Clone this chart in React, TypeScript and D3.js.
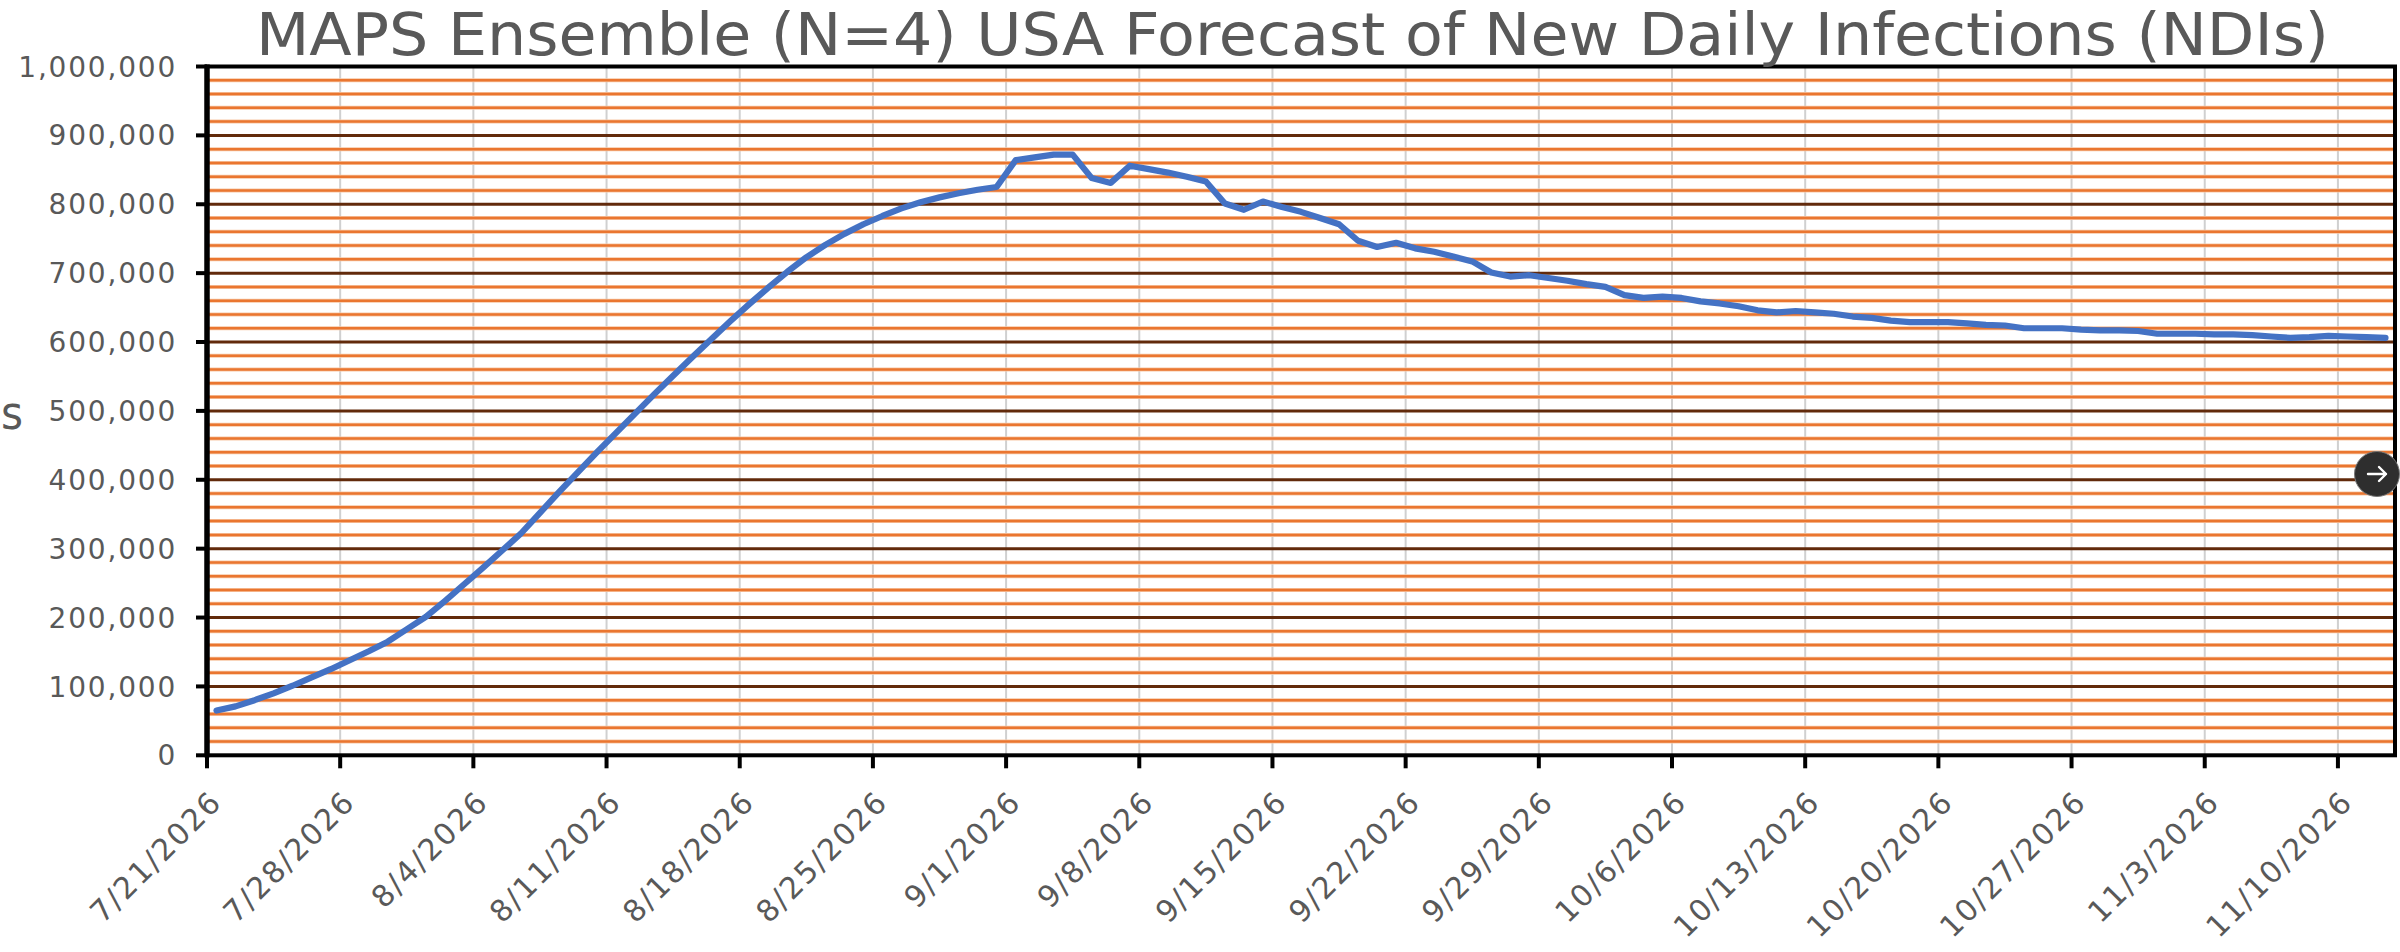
import { useEffect, useRef } from 'react';
import * as d3 from 'd3';

// first forecast day and the day the date axis runs to
const startDay = '7/21/2026';
const axisEndDay = '11/13/2026';

// ensemble forecast of new daily infections, one value per day from 7/21/2026
const ndiValues = [
  65000, 71000, 80000, 90000, 101000, 113000, 125000, 138000, 151000, 165000,
  183000, 201000, 224000, 248000, 272000, 297000, 322000, 352000, 382000, 411000,
  440000, 468000, 496000, 524000, 551000, 578000, 604000, 630000, 655000, 679000,
  702000, 723000, 741000, 757000, 771000, 783000, 794000, 803000, 810000, 816000,
  821000, 825000, 864000, 868000, 872000, 872000, 838000, 831000, 856000, 851000,
  846000, 840000, 833000, 801000, 792000, 804000, 796000, 789000, 780000, 771000,
  747000, 738000, 744000, 736000, 731000, 724000, 717000, 701000, 695000, 697000,
  693000, 689000, 684000, 680000, 668000, 664000, 666000, 664000, 659000, 656000,
  652000, 646000, 643000, 645000, 643000, 641000, 637000, 635000, 631000, 629000,
  629000, 629000, 627000, 625000, 624000, 620000, 620000, 620000, 618000, 617000,
  617000, 616000, 612000, 612000, 612000, 611000, 611000, 610000, 608000, 606000,
  607000, 609000, 608000, 607000, 606000,
];

// weekly date ticks along the bottom
const weekTickLabels = [
  '7/21/2026', '7/28/2026', '8/4/2026', '8/11/2026', '8/18/2026', '8/25/2026',
  '9/1/2026', '9/8/2026', '9/15/2026', '9/22/2026', '9/29/2026', '10/6/2026',
  '10/13/2026', '10/20/2026', '10/27/2026', '11/3/2026', '11/10/2026',
];

const yMajorTicks = [0, 100000, 200000, 300000, 400000, 500000, 600000, 700000, 800000, 900000, 1000000];
const yMinorStep = 20000;

const titleText = 'MAPS Ensemble (N=4) USA Forecast of New Daily Infections (NDIs)';
// only the tail of the axis title is visible at the left edge
const yAxisTitleVisible = 's';

const App = () => {
  const chartRef = useRef<SVGSVGElement>(null);

  useEffect(() => {
    const svg = d3.select(chartRef.current);
    svg.selectAll('*').remove();

    const parse = d3.utcParse('%m/%d/%Y');
    const start = parse(startDay)!;
    const end = parse(axisEndDay)!;
    const dates = ndiValues.map((_, i) => d3.utcDay.offset(start, i));
    const tickDates = weekTickLabels.map((s) => parse(s)!);

    // plot area
    const left = 207;
    const right = 2395;
    const top = 66.5;
    const bottom = 755.3;

    const x = d3.scaleUtc().domain([start, end]).range([left, right]);
    const y = d3.scaleLinear().domain([0, 1000000]).range([bottom, top]);

    const labelFont = "'DejaVu Sans', 'Noto Sans', sans-serif";
    const grey = '#595959';

    // vertical gridlines
    svg
      .append('g')
      .selectAll('line')
      .data(tickDates.slice(1))
      .join('line')
      .attr('x1', (d) => x(d))
      .attr('x2', (d) => x(d))
      .attr('y1', top)
      .attr('y2', bottom)
      .attr('stroke', '#d0d0d0')
      .attr('stroke-width', 2);

    // minor horizontal gridlines (orange)
    const minor = d3.range(yMinorStep, 1000000, yMinorStep).filter((v) => v % 100000 !== 0);
    const minorG = svg.append('g');
    minorG
      .selectAll('line.halo')
      .data(minor)
      .join('line')
      .attr('class', 'halo')
      .attr('x1', left)
      .attr('x2', right)
      .attr('y1', (d) => y(d))
      .attr('y2', (d) => y(d))
      .attr('stroke', '#f7c7a5')
      .attr('stroke-width', 4);
    minorG
      .selectAll('line.core')
      .data(minor)
      .join('line')
      .attr('class', 'core')
      .attr('x1', left)
      .attr('x2', right)
      .attr('y1', (d) => y(d))
      .attr('y2', (d) => y(d))
      .attr('stroke', '#ea7630')
      .attr('stroke-width', 2.5);

    // major horizontal gridlines (dark brown)
    svg
      .append('g')
      .selectAll('line')
      .data(yMajorTicks.slice(1, -1))
      .join('line')
      .attr('x1', left)
      .attr('x2', right)
      .attr('y1', (d) => y(d))
      .attr('y2', (d) => y(d))
      .attr('stroke', '#622a0b')
      .attr('stroke-width', 3);

    // forecast line, points sit in the middle of each day slot
    const line = d3
      .line<number>()
      .x((_, i) => x(d3.utcHour.offset(dates[i], 12)))
      .y((d) => y(d));

    svg
      .append('path')
      .datum(ndiValues)
      .attr('d', line)
      .attr('fill', 'none')
      .attr('stroke', '#4472c4')
      .attr('stroke-width', 6.2)
      .attr('stroke-linejoin', 'round')
      .attr('stroke-linecap', 'round');

    // frame
    svg
      .append('rect')
      .attr('x', left)
      .attr('y', top)
      .attr('width', right - left)
      .attr('height', bottom - top)
      .attr('fill', 'none')
      .attr('stroke', '#000')
      .attr('stroke-width', 4);
    svg
      .append('line')
      .attr('x1', left)
      .attr('x2', left)
      .attr('y1', top - 2)
      .attr('y2', bottom + 2)
      .attr('stroke', '#000')
      .attr('stroke-width', 5.5);

    // y ticks and labels
    const yAxis = svg.append('g');
    yAxis
      .selectAll('line')
      .data(yMajorTicks)
      .join('line')
      .attr('x1', left - 11)
      .attr('x2', left)
      .attr('y1', (d) => y(d))
      .attr('y2', (d) => y(d))
      .attr('stroke', '#000')
      .attr('stroke-width', 4);
    yAxis
      .selectAll('text')
      .data(yMajorTicks)
      .join('text')
      .attr('x', 177)
      .attr('y', (d) => y(d))
      .attr('dy', '0.36em')
      .attr('text-anchor', 'end')
      .attr('font-family', labelFont)
      .attr('font-size', 28)
      .attr('letter-spacing', 1.8)
      .attr('fill', grey)
      .text((d) => d3.format(',')(d));

    // x ticks and rotated date labels
    const xAxis = svg.append('g');
    xAxis
      .selectAll('line')
      .data(tickDates)
      .join('line')
      .attr('x1', (d) => x(d))
      .attr('x2', (d) => x(d))
      .attr('y1', bottom)
      .attr('y2', bottom + 13)
      .attr('stroke', '#000')
      .attr('stroke-width', 4);
    xAxis
      .selectAll('text')
      .data(weekTickLabels)
      .join('text')
      .attr('transform', (d) => `translate(${x(parse(d)!) + 9},796) rotate(-45)`)
      .attr('dy', '0.36em')
      .attr('text-anchor', 'end')
      .attr('font-family', labelFont)
      .attr('font-size', 30)
      .attr('letter-spacing', 1.9)
      .attr('fill', grey)
      .text((d) => d);

    // title
    svg
      .append('text')
      .attr('x', 1292.5)
      .attr('y', 55)
      .attr('text-anchor', 'middle')
      .attr('font-family', "'DejaVu Sans Condensed', 'DejaVu Sans', sans-serif")
      .attr('font-size', 58)
      .attr('textLength', 2073)
      .attr('lengthAdjust', 'spacingAndGlyphs')
      .attr('fill', grey)
      .text(titleText);

    // y axis title remnant at the left edge
    svg
      .append('text')
      .attr('x', 1)
      .attr('y', 429)
      .attr('font-family', "'DejaVu Sans Condensed', 'DejaVu Sans', sans-serif")
      .attr('font-size', 47)
      .attr('fill', grey)
      .text(yAxisTitleVisible);

    // scroll button overlay
    const btn = svg.append('g').attr('transform', 'translate(2377,474)');
    btn.append('circle').attr('r', 22.5).attr('fill', '#2e2e2e').attr('stroke', '#777').attr('stroke-width', 1);
    btn
      .append('path')
      .attr('d', 'M-9,0 L9,0 M2,-7 L9,0 L2,7')
      .attr('fill', 'none')
      .attr('stroke', '#fff')
      .attr('stroke-width', 2.4)
      .attr('stroke-linecap', 'round')
      .attr('stroke-linejoin', 'round');
  }, []);

  return (
    <svg
      ref={chartRef}
      width={2400}
      height={952}
      style={{ position: 'absolute', left: 0, top: 0, background: '#fff' }}
    />
  );
};

export default App;
